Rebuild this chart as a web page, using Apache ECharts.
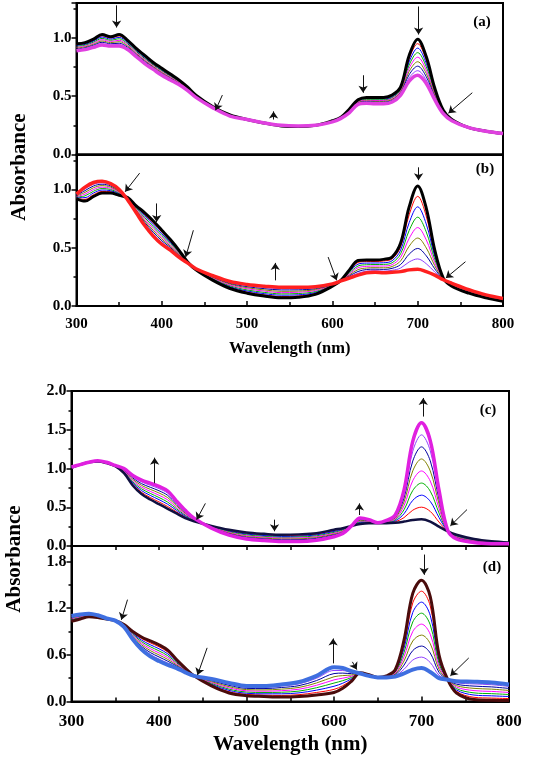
<!DOCTYPE html>
<html><head><meta charset="utf-8">
<script src="https://cdn.jsdelivr.net/npm/echarts@6/dist/echarts.min.js"></script>
<style>html,body{margin:0;padding:0;background:#fff}#c{width:536px;height:757px}</style>
</head><body><div id="c"></div>
<script>
const wavelengths = [300,310,320,330,340,350,360,370,380,390,400,410,420,430,440,460,480,500,520,540,560,580,600,610,620,630,640,650,660,670,680,690,700,710,720,730,740,760,780,800];

// Panel (a)
const aStart = [.95,.96,.99,1.03,1.01,1.03,.98,.91,.85,.79,.74,.69,.64,.58,.51,.41,.34,.30,.27,.245,.24,.25,.29,.32,.39,.47,.49,.49,.49,.51,.58,.85,.99,.84,.57,.38,.30,.23,.20,.18];
const a1 = [.943,.953,.981,1.019,1.00,1.018,.97,.901,.841,.783,.733,.684,.635,.576,.508,.409,.339,.30,.27,.246,.241,.25,.289,.319,.386,.465,.484,.483,.483,.503,.571,.823,.951,.811,.558,.376,.299,.23,.20,.18];
const a2 = [.935,.945,.973,1.008,.99,1.005,.96,.893,.833,.775,.725,.678,.63,.573,.505,.408,.338,.30,.27,.246,.241,.25,.288,.318,.383,.46,.478,.476,.476,.495,.563,.795,.913,.783,.545,.373,.298,.23,.20,.18];
const a3 = [.928,.938,.964,.996,.98,.993,.95,.884,.824,.768,.718,.671,.625,.569,.503,.406,.336,.30,.27,.247,.242,.25,.286,.316,.379,.455,.471,.469,.469,.488,.554,.768,.874,.754,.533,.369,.296,.23,.20,.18];
const a4 = [.92,.93,.955,.985,.97,.98,.94,.875,.815,.76,.71,.665,.62,.565,.50,.405,.335,.30,.27,.248,.243,.25,.285,.315,.375,.45,.465,.463,.463,.48,.545,.74,.835,.725,.52,.365,.295,.23,.20,.18];
const a5 = [.913,.923,.946,.974,.96,.968,.93,.866,.806,.753,.703,.659,.615,.561,.498,.404,.334,.30,.27,.248,.243,.25,.284,.314,.371,.445,.459,.456,.456,.473,.536,.713,.796,.696,.508,.361,.294,.23,.20,.18];
const a6 = [.905,.915,.938,.963,.95,.955,.92,.858,.798,.745,.695,.653,.61,.558,.495,.403,.333,.30,.27,.249,.244,.25,.283,.313,.368,.44,.453,.449,.449,.465,.528,.685,.758,.668,.495,.358,.293,.23,.20,.18];
const a7 = [.898,.908,.929,.951,.94,.943,.91,.849,.789,.738,.688,.646,.605,.554,.493,.401,.331,.30,.27,.249,.244,.25,.281,.311,.364,.435,.446,.442,.442,.458,.519,.658,.719,.639,.483,.354,.291,.23,.20,.18];
const aEnd = [.89,.90,.92,.94,.93,.93,.90,.84,.78,.73,.68,.64,.60,.55,.49,.40,.33,.30,.27,.25,.245,.25,.28,.31,.36,.43,.44,.435,.435,.45,.51,.63,.68,.61,.47,.35,.29,.23,.20,.18];

// Panel (b)
const bStart = [.92,.90,.94,.97,.97,.95,.93,.86,.80,.73,.65,.57,.48,.38,.31,.22,.15,.11,.085,.07,.075,.10,.17,.22,.31,.39,.395,.395,.40,.42,.54,.85,1.03,.84,.48,.24,.17,.11,.07,.04];
const b1 = [.925,.915,.955,.983,.98,.956,.928,.853,.786,.714,.635,.559,.473,.379,.311,.225,.158,.119,.096,.081,.086,.108,.173,.219,.301,.374,.381,.382,.386,.404,.509,.783,.941,.772,.453,.238,.173,.114,.073,.043];
const b2 = [.93,.93,.97,.995,.99,.963,.925,.845,.773,.698,.62,.548,.465,.378,.313,.23,.165,.129,.106,.093,.096,.116,.175,.219,.293,.359,.368,.369,.371,.388,.479,.715,.851,.704,.426,.236,.176,.118,.076,.046];
const b3 = [.935,.945,.985,1.008,1.00,.969,.923,.838,.759,.681,.605,.536,.458,.376,.314,.235,.173,.138,.117,.104,.107,.124,.178,.218,.284,.343,.354,.356,.357,.371,.448,.648,.762,.636,.399,.234,.179,.121,.079,.049];
const b4 = [.94,.96,1.00,1.02,1.01,.975,.92,.83,.745,.665,.59,.525,.45,.375,.315,.24,.18,.148,.128,.115,.118,.133,.18,.218,.275,.328,.34,.343,.343,.355,.418,.58,.673,.568,.373,.233,.183,.125,.083,.053];
const b5 = [.945,.975,1.015,1.033,1.02,.981,.918,.823,.731,.649,.575,.514,.443,.374,.316,.245,.188,.157,.138,.126,.128,.141,.183,.217,.266,.312,.326,.329,.328,.339,.387,.513,.583,.499,.346,.231,.186,.129,.086,.056];
const b6 = [.95,.99,1.03,1.045,1.03,.988,.915,.815,.718,.633,.56,.503,.435,.373,.318,.25,.195,.166,.149,.138,.139,.149,.185,.216,.258,.296,.313,.316,.314,.323,.356,.445,.494,.431,.319,.229,.189,.133,.089,.059];
const b7 = [.955,1.005,1.045,1.058,1.04,.994,.913,.808,.704,.616,.545,.491,.428,.371,.319,.255,.203,.176,.159,.149,.149,.157,.188,.216,.249,.281,.299,.303,.299,.306,.326,.378,.404,.363,.292,.227,.192,.136,.092,.062];
const bEnd = [.96,1.02,1.06,1.07,1.05,1.00,.91,.80,.69,.60,.53,.48,.42,.37,.32,.26,.21,.185,.17,.16,.16,.165,.19,.215,.24,.265,.285,.29,.285,.29,.295,.31,.315,.295,.265,.225,.195,.14,.095,.065];

// Panel (c)
const cStart = [1.01,1.05,1.08,1.09,1.07,1.03,.94,.78,.67,.60,.54,.48,.42,.36,.32,.26,.21,.175,.157,.145,.15,.165,.21,.23,.26,.285,.295,.295,.295,.30,.315,.335,.345,.315,.25,.19,.145,.09,.06,.045];
const c1 = [1.011,1.05,1.08,1.091,1.071,1.031,.948,.796,.693,.626,.569,.509,.44,.373,.325,.256,.201,.164,.146,.134,.139,.154,.199,.221,.26,.294,.301,.296,.299,.313,.366,.462,.501,.446,.309,.191,.138,.084,.056,.043];
const c2 = [1.013,1.05,1.08,1.093,1.073,1.033,.955,.813,.715,.653,.598,.538,.46,.385,.33,.253,.193,.154,.135,.123,.127,.143,.188,.213,.26,.304,.306,.296,.304,.325,.416,.589,.656,.576,.368,.193,.131,.079,.053,.041];
const c3 = [1.014,1.05,1.08,1.094,1.074,1.034,.963,.829,.738,.679,.626,.566,.48,.398,.335,.249,.184,.143,.124,.112,.116,.131,.176,.204,.26,.313,.312,.297,.308,.338,.467,.716,.812,.707,.426,.194,.124,.073,.049,.039];
const c4 = [1.015,1.05,1.08,1.095,1.075,1.035,.97,.845,.76,.705,.655,.595,.50,.41,.34,.245,.175,.133,.114,.102,.104,.12,.165,.195,.26,.323,.318,.298,.313,.35,.518,.843,.968,.838,.485,.195,.118,.068,.045,.037];
const c5 = [1.016,1.05,1.08,1.096,1.076,1.036,.978,.861,.783,.731,.684,.624,.52,.423,.345,.241,.166,.122,.103,.091,.093,.109,.154,.186,.26,.332,.323,.298,.317,.363,.568,.969,1.123,.968,.544,.196,.111,.062,.041,.034];
const c6 = [1.018,1.05,1.08,1.098,1.078,1.038,.985,.878,.805,.758,.713,.653,.54,.435,.35,.238,.158,.111,.092,.08,.081,.098,.143,.178,.26,.341,.329,.299,.321,.375,.619,1.096,1.279,1.099,.603,.198,.104,.056,.038,.032];
const c7 = [1.019,1.05,1.08,1.099,1.079,1.039,.993,.894,.828,.784,.741,.681,.56,.448,.355,.234,.149,.101,.081,.069,.07,.086,.131,.169,.26,.351,.334,.299,.326,.388,.669,1.223,1.434,1.229,.661,.199,.097,.051,.034,.03];
const cEnd = [1.02,1.05,1.08,1.10,1.08,1.04,1.00,.91,.85,.81,.77,.71,.58,.46,.36,.23,.14,.09,.07,.058,.058,.075,.12,.16,.26,.36,.34,.30,.33,.40,.72,1.35,1.59,1.36,.72,.20,.09,.045,.03,.028];

// Panel (d)
const dStart = [1.03,1.06,1.09,1.08,1.06,1.04,.99,.90,.83,.78,.73,.66,.54,.43,.33,.20,.11,.075,.065,.058,.065,.085,.115,.17,.26,.37,.345,.31,.33,.41,.79,1.39,1.56,1.35,.60,.28,.11,.025,.015,.012];
const d1 = [1.039,1.068,1.095,1.084,1.061,1.04,.986,.888,.81,.755,.704,.636,.526,.423,.33,.211,.126,.091,.082,.078,.088,.116,.156,.203,.276,.369,.343,.31,.328,.399,.736,1.268,1.419,1.229,.563,.28,.129,.054,.044,.038];
const d2 = [1.048,1.075,1.10,1.088,1.063,1.04,.983,.875,.79,.73,.678,.613,.513,.416,.33,.223,.143,.106,.099,.099,.111,.146,.196,.235,.293,.368,.341,.31,.325,.388,.683,1.145,1.278,1.108,.525,.28,.148,.083,.073,.064];
const d3 = [1.056,1.083,1.105,1.091,1.064,1.04,.979,.863,.77,.705,.651,.589,.499,.409,.33,.234,.159,.122,.116,.119,.134,.177,.237,.268,.309,.366,.339,.31,.323,.376,.629,1.023,1.136,.986,.488,.28,.166,.111,.101,.09];
const d4 = [1.065,1.09,1.11,1.095,1.065,1.04,.975,.85,.75,.68,.625,.565,.485,.403,.33,.245,.175,.138,.133,.139,.158,.208,.278,.30,.325,.365,.338,.31,.32,.365,.575,.90,.995,.865,.45,.28,.185,.14,.13,.116];
const d5 = [1.074,1.098,1.115,1.099,1.066,1.04,.971,.838,.73,.655,.599,.541,.471,.396,.33,.256,.191,.153,.149,.159,.181,.238,.318,.333,.341,.364,.336,.31,.318,.354,.521,.778,.854,.744,.413,.28,.204,.169,.159,.142];
const d6 = [1.083,1.105,1.12,1.103,1.068,1.04,.968,.825,.71,.63,.573,.518,.458,.389,.33,.268,.208,.169,.166,.18,.204,.269,.359,.365,.358,.363,.334,.31,.315,.343,.468,.655,.713,.623,.375,.28,.223,.198,.188,.168];
const d7 = [1.091,1.113,1.125,1.106,1.069,1.04,.964,.813,.69,.605,.546,.494,.444,.382,.33,.279,.224,.184,.183,.20,.227,.299,.399,.398,.374,.361,.332,.31,.313,.331,.414,.533,.571,.501,.338,.28,.241,.226,.216,.194];
const dEnd = [1.10,1.12,1.13,1.11,1.07,1.04,.96,.80,.67,.58,.52,.47,.43,.375,.33,.29,.24,.20,.20,.22,.25,.33,.44,.43,.39,.36,.33,.31,.31,.32,.36,.41,.43,.38,.30,.28,.26,.255,.245,.22];

// Annotation arrows [x1, y1, x2, y2] in data units (tail -> head)
const arrowsA = [[347,1.28,347,1.09],[701,1.27,701,1.03],[636,0.68,636,0.53],[531,0.30,531,0.37],[471,0.51,463,0.38],[764,0.53,736,0.355]];
const arrowsB = [[374,1.14,357,0.98],[394,0.88,394,0.72],[437,0.65,428,0.42],[533,0.22,533,0.37],[595,0.42,605,0.22],[701,1.19,701,1.08],[756,0.38,733,0.24]];
const arrowsC = [[395,0.81,395,1.14],[453,0.55,443,0.34],[532,0.34,532,0.19],[629,0.40,629,0.55],[702,1.67,702,1.91],[752,0.47,733,0.26]];
const arrowsD = [[364,1.31,357,1.05],[455,0.69,444,0.34],[599,0.49,599,0.81],[621,0.51,626,0.41],[703,1.89,703,1.63],[754,0.56,733,0.33]];

const panelLabels = ['(a)','(b)','(c)','(d)'];
const xName = 'Wavelength (nm)';
const yName = 'Absorbance';

const FONT = '"Liberation Serif","Times New Roman",serif';
const interColors = ['#ff0000','#0000ff','#00b000','#ff00ff','#808000','#0000a0','#9040ff'];

const panels = [
  {start:aStart, inter:[a1,a2,a3,a4,a5,a6,a7], end:aEnd, sc:'#000000', ec:'#e040e0', sw:3, ew:3.5, arrows:arrowsA},
  {start:bStart, inter:[b1,b2,b3,b4,b5,b6,b7], end:bEnd, sc:'#000000', ec:'#ff2020', sw:3, ew:3.5, arrows:arrowsB},
  {start:cStart, inter:[c1,c2,c3,c4,c5,c6,c7], end:cEnd, sc:'#101040', ec:'#e020e0', sw:2.5, ew:3.5, arrows:arrowsC},
  {start:dStart, inter:[d1,d2,d3,d4,d5,d6,d7], end:dEnd, sc:'#4a0c0c', ec:'#3f6fe0', sw:3, ew:4, arrows:arrowsD}
];

const toPairs = arr => wavelengths.map((w,i)=>[w, arr[i]]);
const SMOOTH = 0.35;

const series = [];
panels.forEach((p, gi) => {
  p.inter.forEach((arr, k) => {
    series.push({type:'line', xAxisIndex:gi, yAxisIndex:gi, data:toPairs(arr), showSymbol:false,
      smooth:SMOOTH, lineStyle:{width:1, color:interColors[k]}, silent:true, z:2});
  });
  series.push({type:'line', xAxisIndex:gi, yAxisIndex:gi, data:toPairs(p.start), showSymbol:false,
    smooth:SMOOTH, lineStyle:{width:p.sw, color:p.sc}, silent:true, z:3});
  series.push({type:'line', xAxisIndex:gi, yAxisIndex:gi, data:toPairs(p.end), showSymbol:false,
    smooth:SMOOTH, lineStyle:{width:p.ew, color:p.ec}, silent:true, z:4,
    markLine:{silent:true, symbol:['none','arrow'], symbolSize:7, animation:false,
      label:{show:false}, lineStyle:{color:'#111', width:1, type:'solid'},
      data:p.arrows.map(a=>[{coord:[a[0],a[1]]},{coord:[a[2],a[3]]}])}});
});

const grids = [
  {left:76.5, top:3, width:426.5, height:151.5},
  {left:76.5, top:154.5, width:426.5, height:151.5},
  {left:71.5, top:391, width:437.5, height:155},
  {left:71.5, top:546, width:437.5, height:155.5}
].map(g => Object.assign({show:true, borderColor:'#000', borderWidth:2, containLabel:false}, g));

const axisLine = {show:true, onZero:false, lineStyle:{color:'#000', width:2}};
function xAxis(gi, opts){
  return Object.assign({type:'value', gridIndex:gi, min:300, max:800, interval:100,
    axisLine:axisLine, splitLine:{show:false}}, opts);
}
const xAxes = [
  xAxis(0, {axisTick:{show:false}, axisLabel:{show:false}}),
  xAxis(1, {axisTick:{show:true, inside:true, length:5, lineStyle:{color:'#000', width:1.5}},
    minorTick:{show:true, splitNumber:2, length:4, lineStyle:{color:'#000', width:1.5}},
    axisLabel:{show:true, color:'#000', fontFamily:FONT, fontWeight:'bold', fontSize:15, margin:11},
    name:xName, nameLocation:'middle', nameGap:34,
    nameTextStyle:{color:'#000', fontFamily:FONT, fontWeight:'bold', fontSize:16.5}}),
  xAxis(2, {axisTick:{show:true, inside:false, length:4, lineStyle:{color:'#000', width:1.5}},
    minorTick:{show:true, splitNumber:2, length:4, lineStyle:{color:'#000', width:1.5}},
    axisLabel:{show:false}}),
  xAxis(3, {axisTick:{show:true, inside:true, length:5, lineStyle:{color:'#000', width:1.5}},
    minorTick:{show:true, splitNumber:2, length:4, lineStyle:{color:'#000', width:1.5}},
    axisLabel:{show:true, color:'#000', fontFamily:FONT, fontWeight:'bold', fontSize:17, margin:12},
    name:xName, nameLocation:'middle', nameGap:33,
    nameTextStyle:{color:'#000', fontFamily:FONT, fontWeight:'bold', fontSize:21}})
];

function yAxis(gi, max, interval, showMax, fs){
  return {type:'value', gridIndex:gi, min:0, max:max, interval:interval,
    axisLine:axisLine, splitLine:{show:false},
    axisTick:{show:true, inside:false, length:5, lineStyle:{color:'#000', width:1.5}},
    minorTick:{show:true, splitNumber:2, length:3, lineStyle:{color:'#000', width:1.5}},
    axisLabel:{show:true, showMaxLabel:showMax, color:'#000', fontFamily:FONT, fontWeight:'bold', fontSize:fs, margin:5,
      formatter: v => (+v).toFixed(1)}};
}
const yAxes = [yAxis(0,1.3,0.5,false,15), yAxis(1,1.3,0.5,false,15), yAxis(2,2.0,0.5,true,16), yAxis(3,2.0,0.6,false,16)];

const labelPos = [[482,22],[485,169],[488,410],[492,567]];
const graphic = panelLabels.map((t,i)=>({type:'text', x:labelPos[i][0], y:labelPos[i][1], z:10,
  style:{text:t, fill:'#000', font:'bold 15px '+FONT, textAlign:'center', textVerticalAlign:'middle'}}));
graphic.push({type:'text', x:20, y:167, rotation:Math.PI/2, z:10,
  style:{text:yName, fill:'#000', font:'bold 21px '+FONT, textAlign:'center', textVerticalAlign:'middle'}});
graphic.push({type:'text', x:15, y:559, rotation:Math.PI/2, z:10,
  style:{text:yName, fill:'#000', font:'bold 21px '+FONT, textAlign:'center', textVerticalAlign:'middle'}});

const chart = echarts.init(document.getElementById('c'), null, {renderer:'canvas'});
chart.setOption({animation:false, backgroundColor:'#fff', grid:grids, xAxis:xAxes, yAxis:yAxes, series:series, graphic:graphic});
</script></body></html>
